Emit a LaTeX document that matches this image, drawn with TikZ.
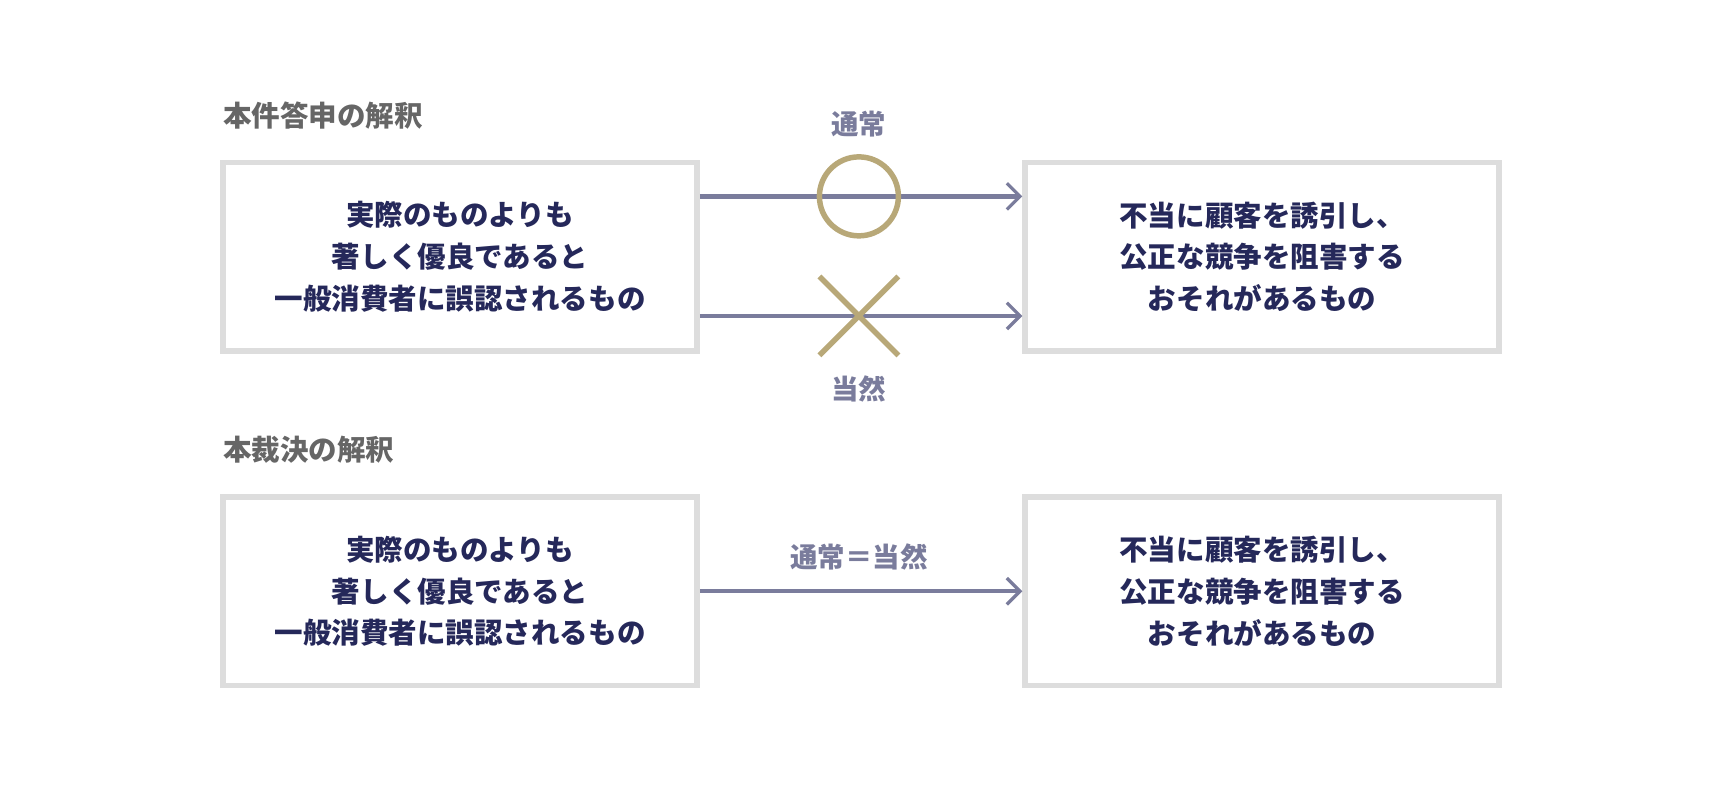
\documentclass[tikz,border=0pt]{standalone}
\usepackage{fontspec}
\setmainfont{Noto Sans CJK JP}
\usetikzlibrary{arrows.meta}
\definecolor{boxg}{HTML}{DDDDDD}
\definecolor{navy}{HTML}{25285A}
\definecolor{hdr}{HTML}{666666}
\definecolor{arr}{HTML}{7A7C9C}
\definecolor{gold}{HTML}{B8A878}
\tikzset{
  box/.style={draw=boxg,line width=2.5pt,minimum width=216pt,minimum height=86pt,align=center,text=navy,font=\fontsize{13pt}{19pt}\selectfont\bfseries,inner sep=0pt},
  hdrtxt/.style={text=hdr,font=\fontsize{13pt}{16pt}\selectfont\bfseries,anchor=west,inner sep=0pt},
  lbl/.style={text=arr,font=\fontsize{12.5pt}{15pt}\selectfont\bfseries,inner sep=0pt},
  conn/.style={draw=arr,line width=2pt,-{Straight Barb[length=6pt,width=12pt,line width=1.5pt]}},
  gmark/.style={draw=gold,line width=2.5pt}
}
\begin{document}
\begin{tikzpicture}[x=0.5pt,y=-0.5pt]
\useasboundingbox (0,0) rectangle (1568,720);
\node[hdrtxt] (h1) at (203,105) {本件答申の解釈};
\node[hdrtxt] (h2) at (203,410) {本裁決の解釈};
\node[box] (a1) at (419.5,234) {実際のものよりも\\著しく優良であると\\一般消費者に誤認されるもの};
\node[box] (b1) at (1150.5,234) {不当に顧客を誘引し、\\公正な競争を阻害する\\おそれがあるもの};
\node[box] (a2) at (419.5,539) {実際のものよりも\\著しく優良であると\\一般消費者に誤認されるもの};
\node[box] (b2) at (1150.5,539) {不当に顧客を誘引し、\\公正な競争を阻害する\\おそれがあるもの};
\draw[conn] ([yshift=27.5pt]a1.east) -- ([yshift=27.5pt]b1.west);
\draw[conn] ([yshift=-27pt]a1.east) -- ([yshift=-27pt]b1.west);
\draw[conn] (a2.east) -- (b2.west);
\node[gmark,circle,minimum size=36pt,inner sep=0pt] (c) at (783,179) {};
\coordinate (x1) at (747,252); \coordinate (x2) at (819,324);
\coordinate (x3) at (819,252); \coordinate (x4) at (747,324);
\draw[gmark] (x1) -- (x2); \draw[gmark] (x3) -- (x4);
\node[lbl] (l1) at (783,113) {通常};
\node[lbl] (l2) at (783,355) {当然};
\node[lbl] (l3) at (783,508) {通常＝当然};
\end{tikzpicture}
\end{document}
